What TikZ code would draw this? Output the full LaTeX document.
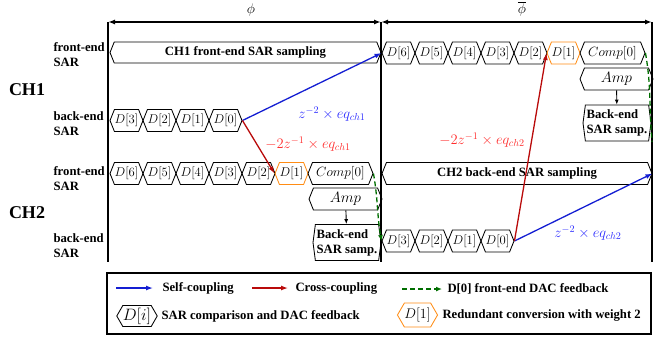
\documentclass[tikz,border=0pt]{standalone}
\usepackage{fix-cm}
\usepackage[no-math]{fontspec}
\setmainfont{Liberation Serif}
\usetikzlibrary{shapes.symbols,arrows.meta}

\definecolor{selfblue}{RGB}{20,30,210}
\definecolor{labblue}{RGB}{45,45,255}
\definecolor{crossred}{RGB}{185,10,10}
\definecolor{labred}{RGB}{255,45,45}
\definecolor{fbgreen}{RGB}{0,110,0}
\definecolor{redund}{RGB}{255,140,20}

\tikzset{
  txt/.style={font=\fontsize{12.7bp}{15bp}\selectfont},
  btxt/.style={font=\fontsize{12.7bp}{15bp}\selectfont\bfseries},
  hexbox/.style={signal, signal to=west and east, signal pointer angle=136,
    draw, line width=0.85bp, minimum height=22bp, minimum width=33bp,
    inner sep=0pt, txt},
  redbox/.style={hexbox, draw=redund},
  compbox/.style={hexbox, minimum width=65bp, font=\fontsize{13.4bp}{15bp}\selectfont},
  ampbox/.style={hexbox, minimum width=73bp, font=\fontsize{15bp}{17bp}\selectfont},
  sampbox/.style={hexbox, btxt},
  backbox/.style={hexbox, signal pointer angle=165, minimum height=36bp,
    minimum width=68bp, btxt, align=left},
  rowlab/.style={btxt, align=left, anchor=west},
  chlab/.style={font=\fontsize{18bp}{20bp}\selectfont\bfseries},
  frame/.style={line width=1.4bp},
  phase/.style={line width=1.4bp, {Latex[length=7bp,width=5bp]}-{Latex[length=7bp,width=5bp]}},
  selfc/.style={selfblue, line width=1.3bp, -{Latex[length=7bp,width=5bp]}},
  crossc/.style={crossred, line width=1.3bp, -{Latex[length=7bp,width=5bp]}},
  fback/.style={fbgreen, line width=1.3bp, dash pattern=on 5bp off 3bp},
  fbtip/.style={fback, -{Latex[length=6bp,width=5bp]}},
  eqlab/.style={font=\fontsize{14.5bp}{16bp}\selectfont},
}

\begin{document}
\begin{tikzpicture}[x=1bp,y=-1bp]
\useasboundingbox (0,0) rectangle (654,339);

% phase frame
\coordinate (tl) at (108,22);
\coordinate (tm) at (381,22);
\coordinate (tr) at (652,22);
\coordinate (bl) at (108,262);
\coordinate (bm) at (381,262);
\coordinate (br) at (652,262);
\draw[frame] (tl) -- (bl);
\draw[frame] (tm) -- (bm);
\draw[frame] (tr) -- (br);
\draw[phase] (tl) -- (tm);
\draw[phase] (tm) -- (tr);
\node[font=\fontsize{14bp}{16bp}\selectfont] (phi) at (251,10) {$\phi$};
\node[font=\fontsize{14bp}{16bp}\selectfont] (phib) at (522,9) {$\overline{\phi}$};

% row labels
\node[rowlab] (l1f) at (50,55) {front-end\\SAR};
\node[rowlab] (l1b) at (50,124) {back-end\\SAR};
\node[rowlab] (l2f) at (50,179) {front-end\\SAR};
\node[rowlab] (l2b) at (50,246) {back-end\\SAR};
\node[chlab] (ch1) at (27,90) {CH1};
\node[chlab] (ch2) at (27,213) {CH2};

% CH1 front-end: sampling in phi, conversion in phi-bar
\node[sampbox, minimum width=271bp, minimum height=21bp] (samp1) at (245.5,52.5) {CH1 front-end SAR sampling};
\node[hexbox] (a6) at (398.5,53) {$D[6]$};
\node[hexbox] (a5) at (431.5,53) {$D[5]$};
\node[hexbox] (a4) at (464.5,53) {$D[4]$};
\node[hexbox] (a3) at (497.5,53) {$D[3]$};
\node[hexbox] (a2) at (530.5,53) {$D[2]$};
\node[redbox] (a1) at (563.5,53) {$D[1]$};
\node[compbox] (ac) at (612.5,53) {$Comp[0]$};
\node[ampbox] (aamp) at (616.5,79) {$Amp$};
\node[backbox] (aback) at (617,123) {Back-end\\SAR samp.};
\draw[-{Latex[length=5bp,width=4bp]}, line width=0.9bp] (aamp) -- (aback);

% CH1 back-end conversion in phi
\node[hexbox] (b3) at (126.5,120.5) {$D[3]$};
\node[hexbox] (b2) at (159.5,120.5) {$D[2]$};
\node[hexbox] (b1) at (192.5,120.5) {$D[1]$};
\node[hexbox] (b0) at (225.5,120.5) {$D[0]$};

% CH2 front-end conversion in phi
\node[hexbox] (c6) at (126.5,173.5) {$D[6]$};
\node[hexbox] (c5) at (159.5,173.5) {$D[5]$};
\node[hexbox] (c4) at (192.5,173.5) {$D[4]$};
\node[hexbox] (c3) at (225.5,173.5) {$D[3]$};
\node[hexbox] (c2) at (258.5,173.5) {$D[2]$};
\node[redbox] (c1) at (291.5,173.5) {$D[1]$};
\node[compbox] (cc) at (340.5,173.5) {$Comp[0]$};
\node[ampbox] (camp) at (345.5,199) {$Amp$};
\node[backbox] (cback) at (347,242.5) {Back-end\\SAR samp.};
\draw[-{Latex[length=5bp,width=4bp]}, line width=0.9bp] (camp) -- (cback);

% CH2 back-end: sampling and conversion in phi-bar
\node[sampbox, minimum width=270bp] (samp2) at (517,173.5) {CH2 back-end SAR sampling};
\node[hexbox] (d3) at (398.5,241) {$D[3]$};
\node[hexbox] (d2) at (431.5,241) {$D[2]$};
\node[hexbox] (d1) at (464.5,241) {$D[1]$};
\node[hexbox] (d0) at (497.5,241) {$D[0]$};

% coupling paths
\draw[selfc] (b0.east) -- (a6.west);
\draw[crossc] (b0.east) -- (c1.west);
\draw[selfc] (d0.east) -- (samp2.east);
\draw[crossc] (d0.east) -- (a1.west);
\node[eqlab, labblue] (e1) at (332,114) {$z^{-2}\times eq_{ch1}$};
\node[eqlab, labred] (e2) at (308,144) {$-2z^{-1}\times eq_{ch1}$};
\node[eqlab, labblue] (e3) at (588,233) {$z^{-2}\times eq_{ch2}$};
\node[eqlab, labred] (e4) at (482,140) {$-2z^{-1}\times eq_{ch2}$};

% DAC feedback of D[0] into the front-end
\draw[fbtip] (cc.east) to[out=-80,in=100] (d3.west);
\coordinate (fbend) at (652,142);
\draw[fback] (ac.east) to[out=-80,in=95] (fbend);

% legend
\coordinate (lg1) at (107,273);
\coordinate (lg2) at (651,334);
\draw[line width=1.4bp] (lg1) rectangle (lg2);
\coordinate (ls1) at (116,288);
\coordinate (ls2) at (153,288);
\draw[selfc] (ls1) -- (ls2);
\node[btxt, anchor=west] (lt1) at (159,288) {Self-coupling};
\coordinate (lc1) at (252,288);
\coordinate (lc2) at (288,288);
\draw[crossc] (lc1) -- (lc2);
\node[btxt, anchor=west] (lt2) at (292,288) {Cross-coupling};
\coordinate (lf1) at (402,289);
\coordinate (lf2) at (442,289);
\draw[fbtip] (lf1) -- (lf2);
\node[btxt, anchor=west] (lt3) at (444,289) {D[0] front-end DAC feedback};
\node[hexbox, minimum width=40bp, minimum height=21bp, signal pointer angle=120,
  font=\fontsize{16.5bp}{18bp}\selectfont] (lhex) at (137,316) {$D[i]$};
\node[btxt, anchor=west] (lt4) at (158,316) {SAR comparison and DAC feedback};
\node[redbox, minimum width=33bp, minimum height=24bp, signal pointer angle=120,
  font=\fontsize{14bp}{16bp}\selectfont] (lred) at (417.5,315) {$D[1]$};
\node[btxt, anchor=west] (lt5) at (439,315) {Redundant conversion with weight 2};
\end{tikzpicture}
\end{document}
